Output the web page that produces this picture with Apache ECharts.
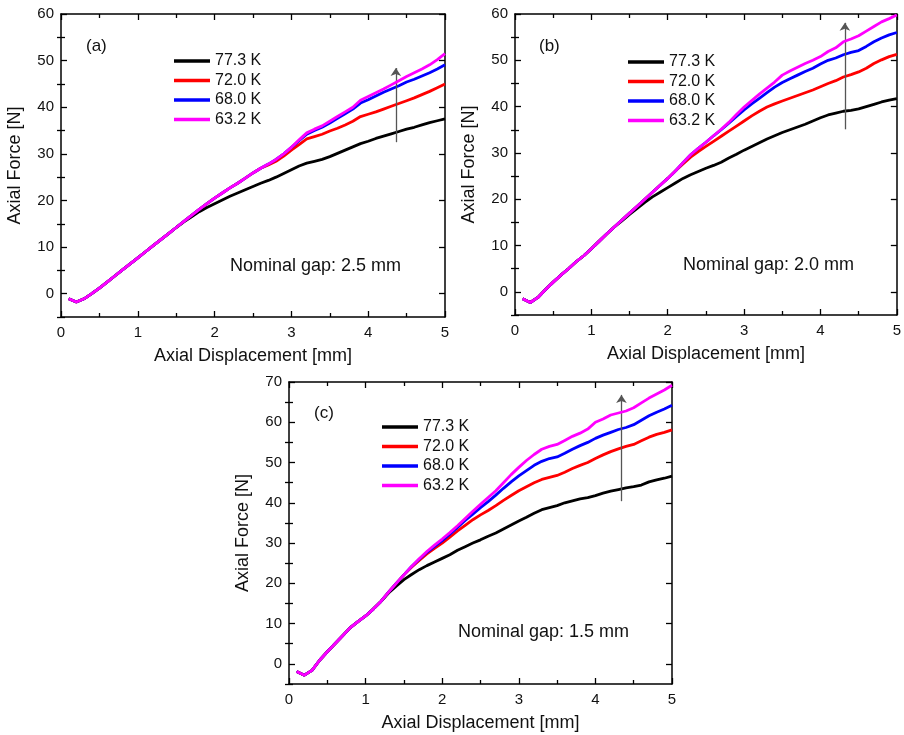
<!DOCTYPE html>
<html>
<head>
<meta charset="utf-8">
<title>Axial force vs displacement</title>
<script src="https://cdn.jsdelivr.net/npm/echarts@6/dist/echarts.min.js"></script>
<style>
  html, body { margin: 0; padding: 0; background: #fff; }
</style>
</head>
<body>
<div id="main" style="width: 904px; height: 735px"></div>
<script>
var seriesNames = ["77.3 K", "72.0 K", "68.0 K", "63.2 K"];
var seriesColors = ["#000000", "#ff0000", "#0000ff", "#ff00ff"];
var panelLabels = ["(a)", "(b)", "(c)"];
var gapLabels = ["Nominal gap: 2.5 mm", "Nominal gap: 2.0 mm", "Nominal gap: 1.5 mm"];

// axial displacement [mm], shared by every curve
var disp = [0.1, 0.2, 0.3, 0.4, 0.5, 0.6, 0.7, 0.8, 0.9, 1.0,
  1.1, 1.2, 1.3, 1.4, 1.5, 1.6, 1.7, 1.8, 1.9, 2.0,
  2.1, 2.2, 2.3, 2.4, 2.5, 2.6, 2.7, 2.8, 2.9, 3.0,
  3.1, 3.2, 3.3, 3.4, 3.5, 3.6, 3.7, 3.8, 3.9, 4.0,
  4.1, 4.2, 4.3, 4.4, 4.5, 4.6, 4.7, 4.8, 4.9, 5.0];

// (a) nominal gap 2.5 mm
var forceA_773 = [-1.1, -1.8, -1.1, 0.0, 1.2, 2.5, 3.8, 5.1, 6.4, 7.7,
  9.0, 10.3, 11.6, 12.9, 14.2, 15.4, 16.5, 17.6, 18.5, 19.3,
  20.1, 20.9, 21.6, 22.3, 23.0, 23.7, 24.3, 25.0, 25.8, 26.6,
  27.4, 28.0, 28.4, 28.8, 29.4, 30.1, 30.8, 31.5, 32.2, 32.7,
  33.3, 33.8, 34.3, 34.8, 35.3, 35.7, 36.2, 36.7, 37.1, 37.5];
var forceA_720 = [-1.1, -1.8, -1.1, 0.0, 1.2, 2.5, 3.8, 5.1, 6.4, 7.7,
  9.0, 10.3, 11.6, 12.9, 14.2, 15.5, 16.8, 18.1, 19.3, 20.5,
  21.6, 22.7, 23.7, 24.8, 25.9, 26.9, 27.6, 28.4, 29.5, 30.8,
  32.0, 33.2, 33.7, 34.2, 34.9, 35.5, 36.2, 37.0, 38.0, 38.5,
  39.0, 39.6, 40.2, 40.8, 41.4, 42.0, 42.7, 43.4, 44.2, 45.0];
var forceA_680 = [-1.1, -1.8, -1.1, 0.0, 1.2, 2.5, 3.8, 5.1, 6.4, 7.7,
  9.0, 10.3, 11.6, 12.9, 14.2, 15.5, 16.8, 18.1, 19.3, 20.5,
  21.6, 22.7, 23.7, 24.8, 25.9, 26.9, 27.8, 28.8, 30.0, 31.4,
  32.8, 34.2, 35.0, 35.7, 36.6, 37.6, 38.6, 39.6, 40.9, 41.6,
  42.4, 43.2, 43.9, 44.6, 45.4, 46.0, 46.7, 47.4, 48.2, 49.1];
var forceA_632 = [-1.1, -1.8, -1.1, 0.0, 1.2, 2.5, 3.8, 5.1, 6.4, 7.7,
  9.0, 10.3, 11.6, 12.9, 14.2, 15.5, 16.8, 18.1, 19.3, 20.5,
  21.6, 22.7, 23.7, 24.8, 25.9, 26.9, 27.8, 28.8, 30.0, 31.4,
  33.0, 34.5, 35.3, 36.0, 37.0, 38.0, 39.0, 40.0, 41.5, 42.3,
  43.1, 43.9, 44.8, 45.7, 46.6, 47.4, 48.2, 49.1, 50.2, 51.5];

// (b) nominal gap 2.0 mm
var forceB_773 = [-1.5, -2.3, -1.2, 0.5, 2.1, 3.6, 5.0, 6.5, 7.8, 9.3,
  10.9, 12.5, 14.0, 15.3, 16.7, 18.0, 19.3, 20.5, 21.5, 22.5,
  23.5, 24.5, 25.3, 26.0, 26.7, 27.3, 28.0, 28.9, 29.7, 30.6,
  31.4, 32.2, 33.0, 33.7, 34.4, 35.0, 35.6, 36.2, 36.9, 37.6,
  38.2, 38.6, 39.0, 39.2, 39.5, 40.0, 40.5, 41.0, 41.4, 41.7];
var forceB_720 = [-1.5, -2.3, -1.2, 0.5, 2.1, 3.6, 5.0, 6.5, 7.8, 9.3,
  10.9, 12.5, 14.0, 15.5, 17.0, 18.5, 20.0, 21.5, 23.0, 24.5,
  26.1, 27.6, 29.1, 30.3, 31.4, 32.5, 33.6, 34.7, 35.8, 36.9,
  38.0, 39.0, 39.9, 40.6, 41.2, 41.8, 42.4, 43.0, 43.6, 44.3,
  45.0, 45.6, 46.4, 46.9, 47.5, 48.3, 49.3, 50.1, 50.8, 51.3];
var forceB_680 = [-1.5, -2.3, -1.2, 0.5, 2.1, 3.6, 5.0, 6.5, 7.8, 9.3,
  10.9, 12.5, 14.0, 15.5, 17.0, 18.5, 20.0, 21.5, 23.0, 24.5,
  26.1, 27.9, 29.6, 31.0, 32.3, 33.7, 35.0, 36.4, 37.9, 39.3,
  40.6, 41.8, 43.0, 44.2, 45.2, 46.0, 46.8, 47.6, 48.3, 49.2,
  50.0, 50.5, 51.2, 51.7, 52.1, 53.0, 54.0, 54.8, 55.5, 56.0];
var forceB_632 = [-1.5, -2.3, -1.2, 0.5, 2.1, 3.6, 5.0, 6.5, 7.8, 9.3,
  10.9, 12.5, 14.0, 15.5, 17.0, 18.5, 20.0, 21.5, 23.0, 24.5,
  26.1, 27.9, 29.6, 31.0, 32.3, 33.7, 35.1, 36.6, 38.3, 39.9,
  41.3, 42.7, 44.0, 45.3, 46.8, 47.7, 48.5, 49.3, 50.0, 50.8,
  51.9, 52.7, 54.0, 54.6, 55.3, 56.3, 57.3, 58.3, 59.0, 59.8];

// (c) nominal gap 1.5 mm
var forceC_773 = [-1.9, -2.8, -1.6, 0.9, 3.0, 5.0, 7.0, 9.0, 10.5, 11.9,
  13.6, 15.5, 17.6, 19.3, 20.9, 22.2, 23.4, 24.4, 25.3, 26.2,
  27.1, 28.2, 29.1, 30.0, 30.8, 31.7, 32.5, 33.5, 34.5, 35.5,
  36.4, 37.4, 38.3, 38.8, 39.3, 40.0, 40.5, 41.0, 41.3, 41.8,
  42.4, 42.9, 43.3, 43.7, 44.0, 44.4, 45.2, 45.7, 46.1, 46.6];
var forceC_720 = [-1.9, -2.8, -1.6, 0.9, 3.0, 5.0, 7.0, 9.0, 10.5, 11.9,
  13.6, 15.5, 17.8, 20.0, 22.1, 24.0, 25.7, 27.3, 28.7, 30.0,
  31.5, 33.0, 34.4, 35.8, 37.0, 38.1, 39.3, 40.6, 41.8, 43.0,
  44.0, 45.0, 45.8, 46.3, 46.8, 47.6, 48.5, 49.3, 50.0, 51.0,
  51.9, 52.7, 53.4, 54.0, 54.5, 55.4, 56.3, 57.0, 57.5, 58.1];
var forceC_680 = [-1.9, -2.8, -1.6, 0.9, 3.0, 5.0, 7.0, 9.0, 10.5, 11.9,
  13.6, 15.5, 17.8, 20.0, 22.1, 24.2, 26.0, 27.7, 29.2, 30.6,
  32.2, 33.9, 35.6, 37.2, 38.8, 40.3, 41.9, 43.6, 45.2, 46.7,
  48.0, 49.3, 50.3, 51.0, 51.4, 52.3, 53.3, 54.2, 55.0, 56.0,
  56.8, 57.5, 58.2, 58.7, 59.4, 60.5, 61.6, 62.5, 63.3, 64.2];
var forceC_632 = [-1.9, -2.8, -1.6, 0.9, 3.0, 5.0, 7.0, 9.0, 10.5, 11.9,
  13.6, 15.5, 17.8, 20.0, 22.1, 24.2, 26.1, 27.9, 29.5, 31.0,
  32.6, 34.3, 36.1, 37.9, 39.6, 41.3, 43.0, 45.0, 47.0, 48.8,
  50.5, 52.0, 53.3, 54.0, 54.5, 55.5, 56.5, 57.3, 58.3, 60.0,
  60.8, 61.8, 62.3, 62.8, 63.6, 64.8, 66.0, 67.0, 68.0, 69.2];

var panelForces = [
  [forceA_773, forceA_720, forceA_680, forceA_632],
  [forceB_773, forceB_720, forceB_680, forceB_632],
  [forceC_773, forceC_720, forceC_680, forceC_632]
];

// y axis ticks
var yMaxes = [60, 60, 70];
var yMajorAB = [0, 10, 20, 30, 40, 50, 60];
var yMinorAB = [-5, 5, 15, 25, 35, 45, 55];
var yMajorC = [0, 10, 20, 30, 40, 50, 60, 70];
var yMinorC = [-5, 5, 15, 25, 35, 45, 55, 65];
var yMajors = [yMajorAB, yMajorAB, yMajorC];
var yMinors = [yMinorAB, yMinorAB, yMinorC];

// arrows: [displacement, force from, force to]
var arrowA = [4.36, 32.5, 48.4];
var arrowB = [4.32, 35.1, 58.1];
var arrowC = [4.34, 40.4, 66.8];
var arrows = [arrowA, arrowB, arrowC];

// layout
var grids = [
  { left: 61, top: 14, width: 384, height: 303 },
  { left: 515, top: 14, width: 382, height: 301 },
  { left: 289, top: 382, width: 383, height: 302 }
];
var legendPos = [[174, 53], [628, 54], [382, 419]];
var labelPos = [[86, 38], [539, 38], [314, 405]];
var gapPos = [[230, 257], [683, 256], [458, 623]];

var font = "Liberation Sans, Arial, sans-serif";
var ink = "#111";

function axisStyle() {
  return { show: true, onZero: false, lineStyle: { color: "#000", width: 1.5 } };
}

var xAxes = [];
var yAxes = [];
var series = [];
var legends = [];
var titles = [];

for (var g = 0; g < 3; g++) {
  // bottom axis with labels, top mirror axis
  xAxes.push({
    gridIndex: g, type: "value", min: 0, max: 5, interval: 1, position: "bottom",
    name: "Axial Displacement [mm]", nameLocation: "middle", nameGap: 30,
    nameTextStyle: { fontFamily: font, fontSize: 18, color: ink },
    axisLine: axisStyle(),
    axisTick: { inside: true, length: 6, lineStyle: { color: "#000", width: 1.3 } },
    minorTick: { show: true, splitNumber: 2, length: 4, lineStyle: { color: "#000", width: 1.3 } },
    axisLabel: { fontFamily: font, fontSize: 15, color: ink, margin: 8 },
    splitLine: { show: false }
  });
  xAxes.push({
    gridIndex: g, type: "value", min: 0, max: 5, interval: 1, position: "top",
    axisLine: axisStyle(),
    axisTick: { inside: true, length: 6, lineStyle: { color: "#000", width: 1.3 } },
    minorTick: { show: true, splitNumber: 2, length: 4, lineStyle: { color: "#000", width: 1.3 } },
    axisLabel: { show: false },
    splitLine: { show: false }
  });
  // left axis with labels, minor ticks, right mirror axis, right minor ticks
  yAxes.push({
    gridIndex: g, type: "value", min: -5, max: yMaxes[g], position: "left",
    name: "Axial Force [N]", nameLocation: "middle", nameGap: 37,
    nameTextStyle: { fontFamily: font, fontSize: 18, color: ink },
    axisLine: axisStyle(),
    axisTick: { inside: true, length: 6, customValues: yMajors[g], lineStyle: { color: "#000", width: 1.3 } },
    axisLabel: { fontFamily: font, fontSize: 15, color: ink, margin: 7, customValues: yMajors[g] },
    splitLine: { show: false }
  });
  yAxes.push({
    gridIndex: g, type: "value", min: -5, max: yMaxes[g], position: "left",
    axisLine: { show: false },
    axisTick: { inside: true, length: 4, customValues: yMinors[g], lineStyle: { color: "#000", width: 1.3 } },
    axisLabel: { show: false },
    splitLine: { show: false }
  });
  yAxes.push({
    gridIndex: g, type: "value", min: -5, max: yMaxes[g], position: "right",
    axisLine: axisStyle(),
    axisTick: { inside: true, length: 6, customValues: yMajors[g], lineStyle: { color: "#000", width: 1.3 } },
    axisLabel: { show: false },
    splitLine: { show: false }
  });
  yAxes.push({
    gridIndex: g, type: "value", min: -5, max: yMaxes[g], position: "right",
    axisLine: { show: false },
    axisTick: { inside: true, length: 4, customValues: yMinors[g], lineStyle: { color: "#000", width: 1.3 } },
    axisLabel: { show: false },
    splitLine: { show: false }
  });

  for (var s = 0; s < 4; s++) {
    var pts = [];
    for (var k = 0; k < disp.length; k++) {
      pts.push([disp[k], panelForces[g][s][k]]);
    }
    var item = {
      name: seriesNames[s],
      type: "line",
      xAxisIndex: g * 2,
      yAxisIndex: g * 4,
      data: pts,
      showSymbol: false,
      symbol: "none",
      color: seriesColors[s],
      lineStyle: { color: seriesColors[s], width: 2.8 },
      z: 2 + s
    };
    if (s === 3) {
      var a = arrows[g];
      item.markLine = {
        silent: true,
        symbol: ["none", "arrow"],
        symbolSize: 8,
        label: { show: false },
        emphasis: { disabled: true },
        itemStyle: { color: "#555" },
        lineStyle: { color: "#555", width: 1.3, type: "solid" },
        data: [[{ coord: [a[0], a[1]] }, { coord: [a[0], a[2]] }]]
      };
    }
    series.push(item);
  }

  legends.push({
    data: seriesNames,
    orient: "vertical",
    left: legendPos[g][0],
    top: legendPos[g][1],
    padding: 0,
    itemWidth: 36,
    itemHeight: 3.5,
    itemGap: 3.5,
    icon: "rect",
    selectedMode: false,
    textStyle: { fontFamily: font, fontSize: 16, color: ink }
  });

  titles.push({
    text: panelLabels[g], left: labelPos[g][0], top: labelPos[g][1], padding: 0,
    textStyle: { fontFamily: font, fontSize: 17, fontWeight: "normal", color: ink }
  });
  titles.push({
    text: gapLabels[g], left: gapPos[g][0], top: gapPos[g][1], padding: 0,
    textStyle: { fontFamily: font, fontSize: 18, fontWeight: "normal", color: ink }
  });
}

var chartDom = document.getElementById("main");
var myChart = echarts.init(chartDom, null, { renderer: "canvas" });
var option = {
  animation: false,
  backgroundColor: "#fff",
  title: titles,
  legend: legends,
  grid: grids,
  xAxis: xAxes,
  yAxis: yAxes,
  series: series
};
myChart.setOption(option);
</script>
</body>
</html>
